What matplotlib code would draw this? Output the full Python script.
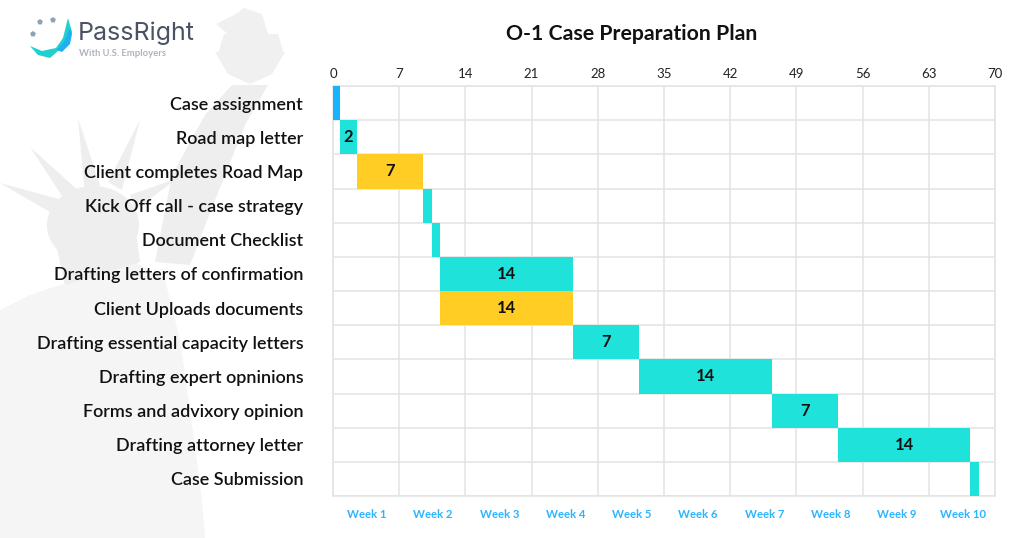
import matplotlib
matplotlib.use('Agg')
import matplotlib.pyplot as plt
from matplotlib.patches import Polygon, Ellipse, RegularPolygon

#Gantt data, days
tasks = ["Case assignment", "Road map letter", "Client completes Road Map",
         "Kick Off call - case strategy", "Document Checklist",
         "Drafting letters of confirmation", "Client Uploads documents",
         "Drafting essential capacity letters", "Drafting expert opninions",
         "Forms and advixory opinion", "Drafting attorney letter", "Case Submission"]
starts = [0, 0.72, 2.55, 9.55, 10.45, 11.35, 11.35, 25.4, 32.4, 46.4, 53.4, 67.4]
lengths = [0.72, 1.83, 7, 0.9, 0.9, 14.05, 14.05, 7, 14, 7, 14, 0.9]
labels = ["", "2", "7", "", "", "14", "14", "7", "14", "7", "14", ""]
kinds = ["start", "work", "client", "work", "work", "work", "client",
         "work", "work", "work", "work", "work"]
weeks = ["Week %d" % i for i in range(1, 11)]
day_ticks = list(range(0, 71, 7))

colors = {"start": "#14b4ff", "work": "#1fe3db", "client": "#ffcd24"}
WIDTH, HEIGHT = 1024, 538

plt.rcParams['font.family'] = ['Lato', 'DejaVu Sans']
fig = plt.figure(figsize=(WIDTH / 100, HEIGHT / 100), dpi=100)

#Full figure axes in pixels, for the statue watermark and logo
bg = fig.add_axes([0, 0, 1, 1])
bg.set_xlim(0, WIDTH)
bg.set_ylim(HEIGHT, 0)
bg.axis('off')

body = "#f5f5f5"
head = "#eeeeee"
torch = "#f0f0f0"
#robe
bg.add_patch(Polygon([(0, 538), (0, 310), (30, 295), (60, 285), (95, 275), (135, 262), (165, 280),
                      (180, 340), (190, 410), (202, 500), (205, 538)], closed=True, fc=body, ec='none'))
#crown spikes
spikes = [
    [(78, 118), (85, 195), (100, 185)],
    [(140, 120), (108, 182), (122, 190)],
    [(30, 147), (68, 205), (80, 192)],
    [(0, 183), (55, 215), (62, 200)],
    [(178, 178), (130, 195), (135, 210)],
]
for pts in spikes:
    bg.add_patch(Polygon(pts, closed=True, fc=head, ec='none'))
#head, neck and raised arm
bg.add_patch(Ellipse((93, 225), 92, 78, fc=head, ec='none'))
bg.add_patch(Polygon([(55, 240), (135, 225), (140, 262), (65, 285)], closed=True, fc=head, ec='none'))
bg.add_patch(Polygon([(155, 262), (172, 175), (205, 115), (232, 85), (268, 85), (245, 125),
                      (215, 200), (190, 265)], closed=True, fc=head, ec='none'))
#torch
bg.add_patch(Polygon([(215, 52), (285, 52), (272, 74), (250, 84), (228, 74)], closed=True, fc=torch, ec='none'))
bg.add_patch(Polygon([(218, 54), (224, 34), (278, 34), (284, 54)], closed=True, fc=torch, ec='none'))
bg.add_patch(Polygon([(228, 34), (216, 24), (236, 14), (244, 8), (262, 14), (268, 34)], closed=True, fc=torch, ec='none'))

#Logo
bg.add_patch(Polygon([(30, 46), (42, 51), (56, 48), (63, 38), (68, 18), (72, 32), (66, 44),
                      (50, 58), (38, 55)], closed=True, fc="#1fd0cf", ec='none'))
bg.add_patch(Polygon([(57, 50), (64, 42), (70, 28), (72, 34), (70, 44), (62, 52)], closed=True, fc="#1eb0f0", ec='none'))
for sx, sy in [(40, 22), (53, 20), (33, 34)]:
    bg.add_patch(RegularPolygon((sx, sy), 5, radius=3, fc="#8fa3b8", ec='none', orientation=3.14159))
bg.text(78, 33, "PassRight", fontsize=18, color="#4a5264", va='center', ha='left', family='Inter')
bg.text(79, 54, "With U.S. Employers", fontsize=6.8, color="#aeb3bf", va='center', ha='left', weight='bold')

#Chart axes, positioned to the plot frame
left, right, top, bottom = 333, 995, 86, 496
ax = fig.add_axes([left / WIDTH, 1 - bottom / HEIGHT, (right - left) / WIDTH, (bottom - top) / HEIGHT])
ax.patch.set_alpha(0)

y = list(range(len(tasks)))
ax.barh(y, lengths, left=starts, height=1.0, color=[colors[k] for k in kinds], zorder=3)
for i, txt in enumerate(labels):
    if txt:
        ax.text(starts[i] + lengths[i] / 2, i, txt, ha='center', va='center',
                fontsize=12, weight='bold', color="#111111", zorder=4)

ax.set_xlim(0, 70)
ax.set_ylim(len(tasks) - 0.5, -0.5)
ax.set_xticks(day_ticks)
ax.xaxis.tick_top()
ax.tick_params(axis='x', length=0, pad=4.5, labelsize=9.5, labelcolor="#222222")
ax.set_yticks(y)
ax.set_yticklabels(tasks, fontsize=13, weight='semibold', color="#111111")
ax.tick_params(axis='y', length=0, pad=21.5)
ax.set_yticks([i - 0.5 for i in range(len(tasks) + 1)], minor=True)
ax.tick_params(axis='y', which='minor', length=0)
ax.grid(True, which='major', axis='x', color="#e3e3e3", linewidth=1.1, zorder=0)
ax.grid(True, which='minor', axis='y', color="#e3e3e3", linewidth=1.1, zorder=0)
for s in ax.spines.values():
    s.set_color("#e3e3e3")
    s.set_linewidth(1.1)

#Week labels under the plot
for i, w in enumerate(weeks):
    ax.text(3.6 + 7 * i, 12.05, w, ha='center', va='center', fontsize=8.2, weight='bold', color="#2bb5ff")

fig.text(632 / WIDTH, 1 - 34 / HEIGHT, "O-1 Case Preparation Plan", ha='center', va='center',
         fontsize=15.3, weight='bold', color="#111111")

fig.savefig("out.png", dpi=100)
